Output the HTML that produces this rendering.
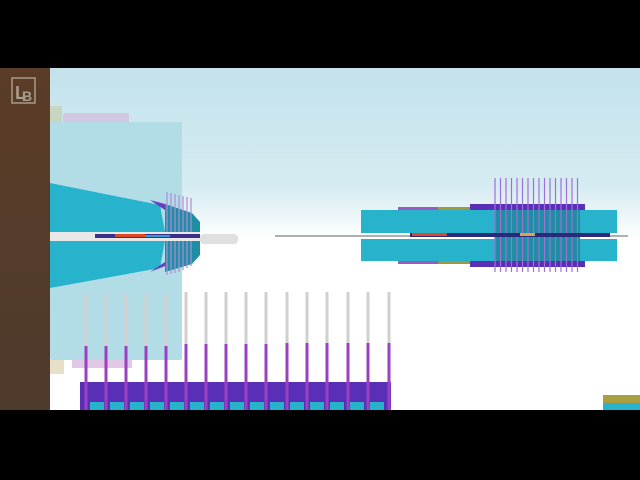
<!DOCTYPE html>
<html><head><style>html,body{margin:0;padding:0;background:#000;}svg{display:block}</style></head>
<body>
<svg width="640" height="480" viewBox="0 0 640 480" xmlns="http://www.w3.org/2000/svg">
<defs>
<linearGradient id="bg" x1="0" y1="0" x2="0" y2="1">
<stop offset="0" stop-color="#c3e2eb"/><stop offset="0.35" stop-color="#d6ecf2"/><stop offset="0.5" stop-color="#ffffff"/><stop offset="1" stop-color="#ffffff"/>
</linearGradient>
<linearGradient id="side" x1="0" y1="0" x2="0" y2="1">
<stop offset="0" stop-color="#5a3c27"/><stop offset="1" stop-color="#4f3a2c"/>
</linearGradient>
</defs>
<rect width="640" height="480" fill="#000"/>
<rect x="50" y="68" width="590" height="342" fill="url(#bg)"/>
<rect x="0" y="68" width="50" height="342" fill="url(#side)"/>
<rect x="12" y="78" width="23" height="25" fill="none" stroke="#a89a8c" stroke-width="1.5"/>
<text x="15" y="99" font-family="Liberation Sans, sans-serif" font-size="18" font-weight="bold" fill="#a89a8c">L</text>
<text x="22" y="101" font-family="Liberation Sans, sans-serif" font-size="14" font-weight="bold" fill="#a89a8c">B</text>
<!-- panel -->
<rect x="50" y="106" width="12" height="16" fill="#c8d5c0"/>
<rect x="63" y="113" width="66" height="10" rx="2" fill="#d2c8e4"/>
<rect x="50" y="122" width="132" height="238" rx="2" fill="#b3dde6"/>
<rect x="72" y="360" width="60" height="8" fill="#e2c8e4"/>
<rect x="50" y="360" width="14" height="14" fill="#e6e0c8"/>
<!-- left cylinder -->
<polygon points="50,183 160,205 165,232 50,232" fill="#27b3cb"/>
<polygon points="50,240 165,240 160,268 50,288" fill="#27b3cb"/>
<polygon points="150,200 165,204 165,210" fill="#6a3cc0"/>
<polygon points="150,272 165,266 165,262" fill="#6a3cc0"/>
<polygon points="165,204 192,213 200,222 200,255 192,264 165,272" fill="#1e8ea4"/>
<g stroke="#b08ad8" stroke-width="1.2">
<line x1="167" y1="192" x2="167" y2="275"/><line x1="171" y1="193" x2="171" y2="274"/><line x1="175" y1="194" x2="175" y2="273"/><line x1="179" y1="195" x2="179" y2="272"/><line x1="183" y1="196" x2="183" y2="270"/><line x1="187" y1="197" x2="187" y2="268"/><line x1="191" y1="198" x2="191" y2="266"/>
</g>
<rect x="200" y="234" width="38" height="10" rx="4" fill="#e0e0e0"/>
<rect x="50" y="232" width="150" height="9" fill="#e8e8e8"/>
<rect x="95" y="234" width="105" height="4" fill="#3b2f8a"/>
<rect x="115" y="234" width="30" height="3" fill="#d84a2a"/>
<rect x="145" y="235" width="25" height="2" fill="#3a9ad0"/>
<!-- right assembly -->
<rect x="361" y="210" width="256" height="23" fill="#27b3cb"/>
<rect x="361" y="239" width="256" height="22" fill="#27b3cb"/>
<rect x="398" y="207" width="72" height="3" fill="#9a5ac0"/>
<rect x="438" y="207" width="32" height="3" fill="#9a9a40"/>
<rect x="398" y="261" width="72" height="3" fill="#9a5ac0"/>
<rect x="438" y="261" width="32" height="3" fill="#9a9a40"/>
<rect x="470" y="204" width="115" height="6" fill="#5a2fb8"/>
<rect x="470" y="261" width="115" height="6" fill="#5a2fb8"/>
<rect x="495" y="210" width="85" height="51" fill="#1e8ea4"/>
<g stroke="#a070d8" stroke-width="1.2">
<line x1="495" y1="178" x2="495" y2="272"/><line x1="500.5" y1="178" x2="500.5" y2="272"/><line x1="506" y1="178" x2="506" y2="272"/><line x1="511.5" y1="178" x2="511.5" y2="272"/><line x1="517" y1="178" x2="517" y2="272"/><line x1="522.5" y1="178" x2="522.5" y2="272"/><line x1="528" y1="178" x2="528" y2="272"/><line x1="533.5" y1="178" x2="533.5" y2="272"/><line x1="539" y1="178" x2="539" y2="272"/><line x1="544.5" y1="178" x2="544.5" y2="272"/><line x1="550" y1="178" x2="550" y2="272"/><line x1="555.5" y1="178" x2="555.5" y2="272"/><line x1="561" y1="178" x2="561" y2="272"/><line x1="566.5" y1="178" x2="566.5" y2="272"/><line x1="572" y1="178" x2="572" y2="272"/><line x1="577.5" y1="178" x2="577.5" y2="272"/>
</g>
<rect x="275" y="235" width="353" height="2" fill="#b0b0b0"/>
<rect x="410" y="233" width="200" height="4" fill="#2a2a7a"/>
<rect x="412" y="233" width="35" height="3" fill="#d84a2a"/>
<rect x="520" y="233" width="15" height="3" fill="#e0a050"/>
<!-- bottom comb -->
<rect x="80" y="382" width="311" height="28" fill="#5a2fb8"/>
<g fill="#27b3cb">
<rect x="90" y="402" width="14" height="8"/><rect x="110" y="402" width="14" height="8"/><rect x="130" y="402" width="14" height="8"/><rect x="150" y="402" width="14" height="8"/><rect x="170" y="402" width="14" height="8"/><rect x="190" y="402" width="14" height="8"/><rect x="210" y="402" width="14" height="8"/><rect x="230" y="402" width="14" height="8"/><rect x="250" y="402" width="14" height="8"/><rect x="270" y="402" width="14" height="8"/><rect x="290" y="402" width="14" height="8"/><rect x="310" y="402" width="14" height="8"/><rect x="330" y="402" width="14" height="8"/><rect x="350" y="402" width="14" height="8"/><rect x="370" y="402" width="14" height="8"/>
</g>
<g stroke-width="3">
<g stroke="#d0d0d0">
<line x1="86" y1="293" x2="86" y2="346"/><line x1="106" y1="293" x2="106" y2="346"/><line x1="126" y1="293" x2="126" y2="346"/><line x1="146" y1="293" x2="146" y2="346"/><line x1="166" y1="293" x2="166" y2="346"/><line x1="186" y1="292" x2="186" y2="344"/><line x1="206" y1="292" x2="206" y2="344"/><line x1="226" y1="292" x2="226" y2="344"/><line x1="246" y1="292" x2="246" y2="344"/><line x1="266" y1="292" x2="266" y2="344"/><line x1="287" y1="292" x2="287" y2="343"/><line x1="307" y1="292" x2="307" y2="343"/><line x1="327" y1="292" x2="327" y2="343"/><line x1="348" y1="292" x2="348" y2="343"/><line x1="368" y1="292" x2="368" y2="343"/><line x1="389" y1="292" x2="389" y2="343"/>
</g>
<g stroke="#9a40c0">
<line x1="86" y1="346" x2="86" y2="410"/><line x1="106" y1="346" x2="106" y2="410"/><line x1="126" y1="346" x2="126" y2="410"/><line x1="146" y1="346" x2="146" y2="410"/><line x1="166" y1="346" x2="166" y2="410"/><line x1="186" y1="344" x2="186" y2="410"/><line x1="206" y1="344" x2="206" y2="410"/><line x1="226" y1="344" x2="226" y2="410"/><line x1="246" y1="344" x2="246" y2="410"/><line x1="266" y1="344" x2="266" y2="410"/><line x1="287" y1="343" x2="287" y2="410"/><line x1="307" y1="343" x2="307" y2="410"/><line x1="327" y1="343" x2="327" y2="410"/><line x1="348" y1="343" x2="348" y2="410"/><line x1="368" y1="343" x2="368" y2="410"/><line x1="389" y1="343" x2="389" y2="410"/>
</g>
</g>
<rect x="603" y="395" width="37" height="8" fill="#a8a040"/>
<rect x="603" y="403" width="37" height="7" fill="#27b3cb"/>
</svg>
</body></html>
